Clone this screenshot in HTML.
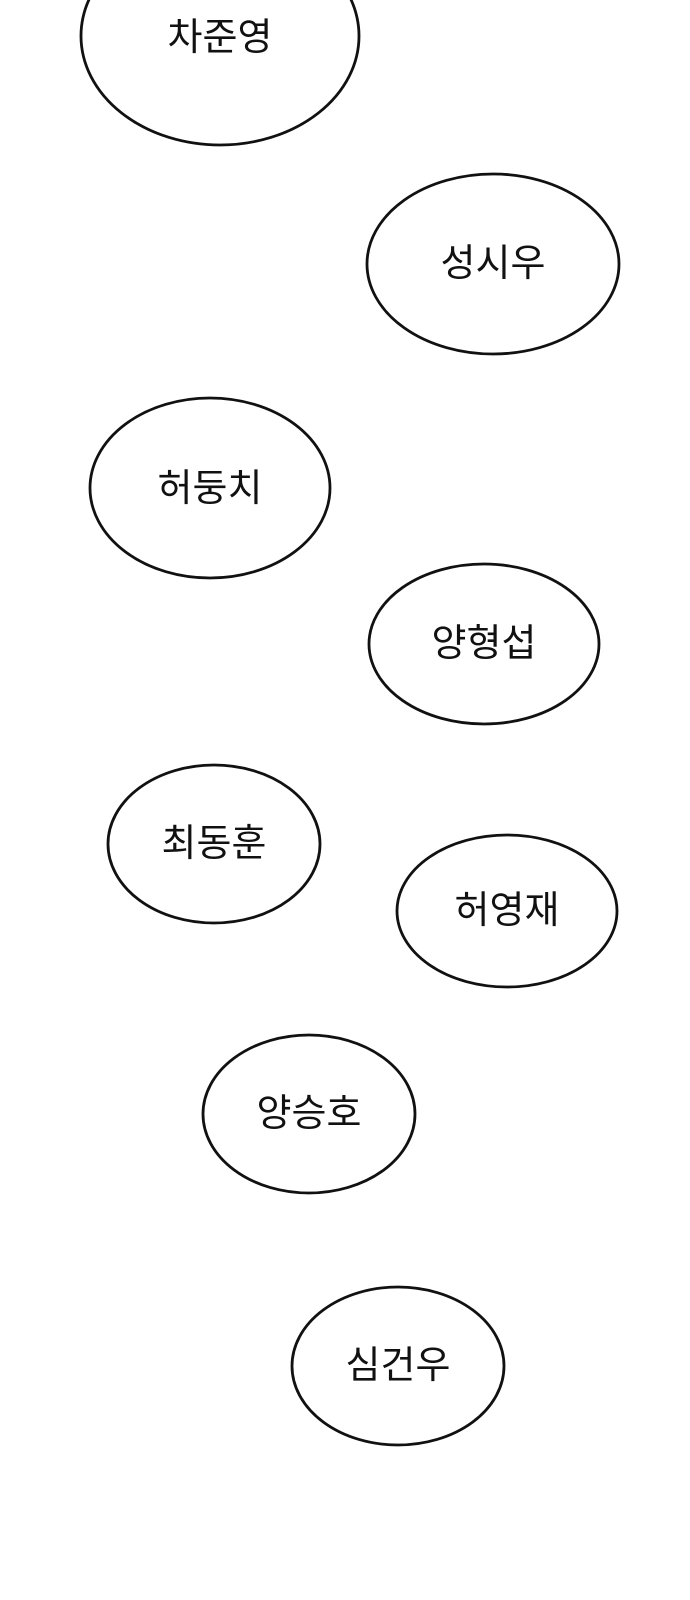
<!DOCTYPE html>
<html><head><meta charset="utf-8"><style>
html,body{margin:0;padding:0;background:#fff;}
svg{display:block;}
text{font-family:"Liberation Sans","Noto Sans CJK KR",sans-serif;font-size:38px;fill:#111;text-anchor:middle;dominant-baseline:central;}
ellipse{fill:#fff;stroke:#111;stroke-width:2.8;}
</style></head><body>
<svg width="690" height="1600" viewBox="0 0 690 1600">
<ellipse cx="220" cy="36" rx="139" ry="109"/><text x="220" y="38">차준영</text>
<ellipse cx="493" cy="264" rx="126" ry="90"/><text x="493" y="264">성시우</text>
<ellipse cx="210" cy="488" rx="120" ry="90"/><text x="210" y="489">허둥치</text>
<ellipse cx="484" cy="644" rx="115" ry="80"/><text x="484" y="644">양형섭</text>
<ellipse cx="214" cy="844" rx="106" ry="79"/><text x="214" y="844">최동훈</text>
<ellipse cx="507" cy="911" rx="110" ry="76"/><text x="507" y="911">허영재</text>
<ellipse cx="309" cy="1114" rx="106" ry="79"/><text x="309" y="1114">양승호</text>
<ellipse cx="398" cy="1366" rx="106" ry="79"/><text x="398" y="1366">심건우</text>
</svg>
</body></html>
